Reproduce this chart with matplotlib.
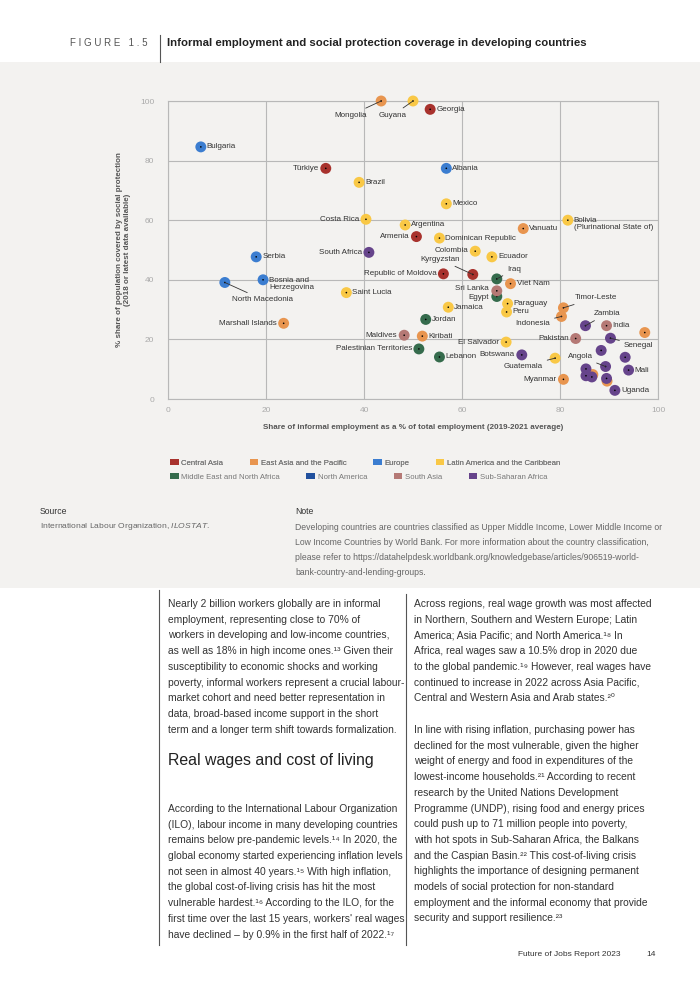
import matplotlib
matplotlib.use("Agg")
import matplotlib.pyplot as plt
from matplotlib.lines import Line2D
from matplotlib.patches import Rectangle, Patch

plt.rcParams["font.family"] = ["Liberation Sans", "DejaVu Sans"]
plt.rcParams["mathtext.fontset"] = "custom"
plt.rcParams["mathtext.it"] = "Liberation Sans:italic"
plt.rcParams["mathtext.rm"] = "Liberation Sans"

# ---- data ----
REGIONS = ["Central Asia", "East Asia and the Pacific", "Europe",
           "Latin America and the Caribbean", "Middle East and North Africa",
           "North America", "South Asia", "Sub-Saharan Africa"]
REGION_COLORS = ["#a8322d", "#e8954f", "#3b7dd0", "#f9c846",
                 "#356b4c", "#22519e", "#b57975", "#66448b"]

central_asia_names = ["Georgia", "Türkiye", "Armenia", "Republic of Moldova", "Kyrgyzstan"]
central_asia_x = [53.5, 32.2, 50.7, 56.2, 62.2]
central_asia_y = [97.2, 77.4, 54.5, 42.0, 41.8]

east_asia_names = ["Mongolia", "Vanuatu", "Viet Nam", "Timor-Leste", "Indonesia",
                   "Marshall Islands", "Kiribati", "Myanmar", "", "", ""]
east_asia_x = [43.5, 72.5, 69.9, 80.7, 80.3, 23.6, 51.9, 80.7, 97.3, 86.7, 89.6]
east_asia_y = [100.0, 57.2, 38.7, 30.6, 27.7, 25.4, 21.1, 6.6, 22.3, 8.2, 6.0]

europe_names = ["Bulgaria", "Albania", "Serbia", "Bosnia and\nHerzegovina", "North Macedonia"]
europe_x = [6.7, 56.8, 18.0, 19.4, 11.6]
europe_y = [84.6, 77.4, 47.7, 40.0, 39.1]

latam_names = ["Guyana", "Brazil", "Mexico", "Costa Rica", "Bolivia\n(Plurinational State of)",
               "Argentina", "Dominican Republic", "Colombia", "Ecuador", "Saint Lucia",
               "Paraguay", "Jamaica", "Peru", "El Salvador", "Guatemala"]
latam_x = [50.0, 39.0, 56.8, 40.4, 81.6, 48.4, 55.4, 62.7, 66.1, 36.4,
           69.3, 57.2, 69.1, 69.0, 79.0]
latam_y = [100.0, 72.7, 65.5, 60.3, 60.0, 58.4, 54.0, 49.6, 47.7, 35.7,
           32.0, 30.8, 29.2, 19.1, 13.7]

mena_names = ["Iraq", "Egypt", "Jordan", "Palestinian Territories", "Lebanon"]
mena_x = [67.1, 67.1, 52.6, 51.2, 55.4]
mena_y = [40.3, 34.4, 26.7, 16.8, 14.1]

north_america_names = []
north_america_x = []
north_america_y = []

south_asia_names = ["Sri Lanka", "India", "Maldives", "Pakistan"]
south_asia_x = [67.1, 89.5, 48.2, 83.2]
south_asia_y = [36.3, 24.6, 21.4, 20.3]

ssa_names = ["South Africa", "Zambia", "Senegal", "", "", "Botswana", "Angola", "",
             "Mali", "", "", "", "Uganda"]
ssa_x = [41.0, 85.2, 90.3, 88.4, 93.3, 72.2, 89.3, 85.3, 94.0, 85.3, 86.5, 89.5, 91.2]
ssa_y = [49.2, 24.6, 20.4, 16.3, 14.0, 14.8, 10.9, 10.1, 9.7, 7.8, 7.4, 6.9, 2.9]

SERIES = [
    (central_asia_names, central_asia_x, central_asia_y),
    (east_asia_names, east_asia_x, east_asia_y),
    (europe_names, europe_x, europe_y),
    (latam_names, latam_x, latam_y),
    (mena_names, mena_x, mena_y),
    (north_america_names, north_america_x, north_america_y),
    (south_asia_names, south_asia_x, south_asia_y),
    (ssa_names, ssa_x, ssa_y),
]

X_TICKS = [0, 20, 40, 60, 80, 100]
Y_TICKS = [0, 20, 40, 60, 80, 100]

TITLE = "Informal employment and social protection coverage in developing countries"
XLABEL = "Share of informal employment as a % of total employment (2019-2021 average)"
YLABEL = "% share of population covered by social protection\n(2018 or latest data available)"

NOTE_LINES = [
    "Developing countries are countries classified as Upper Middle Income, Lower Middle Income or",
    "Low Income Countries by World Bank. For more information about the country classification,",
    "please refer to https://datahelpdesk.worldbank.org/knowledgebase/articles/906519-world-",
    "bank-country-and-lending-groups.",
]

LEFT_PARA1 = [
    "Nearly 2 billion workers globally are in informal",
    "employment, representing close to 70% of",
    "workers in developing and low-income countries,",
    "as well as 18% in high income ones.¹³ Given their",
    "susceptibility to economic shocks and working",
    "poverty, informal workers represent a crucial labour-",
    "market cohort and need better representation in",
    "data, broad-based income support in the short",
    "term and a longer term shift towards formalization.",
]
LEFT_PARA2 = [
    "According to the International Labour Organization",
    "(ILO), labour income in many developing countries",
    "remains below pre-pandemic levels.¹⁴ In 2020, the",
    "global economy started experiencing inflation levels",
    "not seen in almost 40 years.¹⁵ With high inflation,",
    "the global cost-of-living crisis has hit the most",
    "vulnerable hardest.¹⁶ According to the ILO, for the",
    "first time over the last 15 years, workers' real wages",
    "have declined – by 0.9% in the first half of 2022.¹⁷",
]
RIGHT_PARA1 = [
    "Across regions, real wage growth was most affected",
    "in Northern, Southern and Western Europe; Latin",
    "America; Asia Pacific; and North America.¹⁸ In",
    "Africa, real wages saw a 10.5% drop in 2020 due",
    "to the global pandemic.¹⁹ However, real wages have",
    "continued to increase in 2022 across Asia Pacific,",
    "Central and Western Asia and Arab states.²⁰",
]
RIGHT_PARA2 = [
    "In line with rising inflation, purchasing power has",
    "declined for the most vulnerable, given the higher",
    "weight of energy and food in expenditures of the",
    "lowest-income households.²¹ According to recent",
    "research by the United Nations Development",
    "Programme (UNDP), rising food and energy prices",
    "could push up to 71 million people into poverty,",
    "with hot spots in Sub-Saharan Africa, the Balkans",
    "and the Caspian Basin.²² This cost-of-living crisis",
    "highlights the importance of designing permanent",
    "models of social protection for non-standard",
    "employment and the informal economy that provide",
    "security and support resilience.²³",
]

# label placement: (dx px, dy px, ha, leader line)
LEFT = {"Türkiye", "Costa Rica", "South Africa", "Armenia", "Republic of Moldova",
        "Maldives", "Palestinian Territories", "El Salvador", "Botswana", "Pakistan",
        "Marshall Islands", "Myanmar"}
SPECIAL = {
    "Colombia": (-7, 1, "right", False),
    "Sri Lanka": (-8, 2, "right", False),
    "Egypt": (-8, -1, "right", False),
    "Mongolia": (-14, -14, "right", True),
    "Guyana": (-6, -14, "right", True),
    "Kyrgyzstan": (-13, 15, "right", True),
    "Iraq": (10, 9, "left", True),
    "Timor-Leste": (11, 10, "left", True),
    "Indonesia": (-11, -7, "right", True),
    "Zambia": (8, 12, "left", True),
    "Senegal": (13, -7, "left", True),
    "Guatemala": (-12, -8, "right", True),
    "Angola": (-13, 10, "right", True),
    "North Macedonia": (7, -17, "left", True),
    "Bolivia\n(Plurinational State of)": (6, -4, "left", False),
    "Bosnia and\nHerzegovina": (6, -4, "left", False),
}

W, H = 700, 990


def fx(px):
    return px / W


def fy(py):
    return 1 - py / H


fig = plt.figure(figsize=(W / 100, H / 100), dpi=100)
fig.patch.set_facecolor("white")

# grey chart panel
fig.patches.append(Rectangle((0, fy(588)), 1, (588 - 62) / H, transform=fig.transFigure,
                             facecolor="#f3f2f0", edgecolor="none", zorder=-10))

# header
fig.text(fx(70), fy(43), "F I G U R E   1 . 5", fontsize=7.0, color="#555555", va="center")
fig.add_artist(Line2D([fx(160), fx(160)], [fy(35), fy(62)], color="#555555", lw=0.8))
fig.text(fx(167), fy(43), TITLE, fontsize=8.2, weight="bold", color="#222222", va="center")

# scatter
ax = fig.add_axes([168 / W, 1 - 399 / H, 490 / W, 298 / H])
ax.patch.set_alpha(0)
ax.set_xlim(0, 100)
ax.set_ylim(0, 100)
ax.set_xticks(X_TICKS)
ax.set_yticks(Y_TICKS)
ax.grid(color="#b8b8b8", lw=0.8)
ax.set_axisbelow(True)
for sp in ax.spines.values():
    sp.set_color("#b8b8b8")
    sp.set_linewidth(0.8)
ax.tick_params(length=0, labelsize=6.0, labelcolor="#aaaaaa")
ax.tick_params(axis="x", pad=6)
ax.tick_params(axis="y", pad=10)

for i, ((names, xs, ys), color) in enumerate(zip(SERIES, REGION_COLORS)):
    if not xs:
        continue
    ax.scatter(xs, ys, s=62, color=color, edgecolors="none", clip_on=False, zorder=3 + 2 * i)
    ax.scatter(xs, ys, s=1.4, color="black", edgecolors="none", clip_on=False, zorder=4 + 2 * i)
    for name, x, y in zip(names, xs, ys):
        if not name:
            continue
        if name in SPECIAL:
            dx, dy, ha, leader = SPECIAL[name]
        elif name in LEFT:
            dx, dy, ha, leader = -7, 0, "right", False
        else:
            dx, dy, ha, leader = 6, 0, "left", False
        kw = {}
        if leader:
            kw["arrowprops"] = dict(arrowstyle="-", color="#333333", lw=0.6,
                                    shrinkA=1, shrinkB=0)
        ax.annotate(name, (x, y), xytext=(dx, dy), textcoords="offset pixels",
                    ha=ha, va="center", fontsize=5.8, color="#333333",
                    linespacing=1.1, zorder=30, annotation_clip=False, **kw)

ax.set_xlabel(XLABEL, fontsize=5.8, weight="bold", color="#555555")
ax.xaxis.set_label_coords(0.5, -0.085)
ax.set_ylabel(YLABEL, fontsize=5.8, weight="bold", color="#555555", linespacing=1.2)
ax.yaxis.set_label_coords(-0.075, 0.5)

# legend, two rows
handles = [Patch(facecolor=c, edgecolor="none") for c in REGION_COLORS]
leg_kw = dict(loc="center left", frameon=False, fontsize=5.6, ncol=4,
              handlelength=1.1, handleheight=0.65, handletextpad=0.35,
              columnspacing=3.4, borderpad=0, borderaxespad=0, labelcolor="#777777")
leg1 = fig.legend(handles[:4], REGIONS[:4], bbox_to_anchor=(fx(170), fy(463)), **leg_kw)
fig.add_artist(leg1)
fig.legend(handles[4:], REGIONS[4:], bbox_to_anchor=(fx(170), fy(477)), **leg_kw)

# source / note
fig.text(fx(40), fy(511), "Source", fontsize=6.2, color="#333333", va="center")
fig.text(fx(40), fy(527), "International Labour Organization, $\\mathit{ILOSTAT}$.",
         fontsize=6.1, color="#666666", va="center")
fig.text(fx(295), fy(511), "Note", fontsize=6.2, color="#333333", va="center")
for k, line in enumerate(NOTE_LINES):
    fig.text(fx(295), fy(527 + k * 15.3), line, fontsize=6.2, color="#666666", va="center")

# body text
BODY_KW = dict(fontsize=7.4, color="#333333", va="center")
STEP = 15.7
for k, line in enumerate(LEFT_PARA1):
    fig.text(fx(168), fy(604 + k * STEP), line, **BODY_KW)
fig.text(fx(168), fy(760), "Real wages and cost of living", fontsize=11.4,
         color="#222222", va="center")
for k, line in enumerate(LEFT_PARA2):
    fig.text(fx(168), fy(809 + k * STEP), line, **BODY_KW)
for k, line in enumerate(RIGHT_PARA1):
    fig.text(fx(414), fy(604 + k * STEP), line, **BODY_KW)
for k, line in enumerate(RIGHT_PARA2):
    fig.text(fx(414), fy(730 + k * STEP), line, **BODY_KW)

fig.add_artist(Line2D([fx(159), fx(159)], [fy(590), fy(945)], color="#555555", lw=0.8))
fig.add_artist(Line2D([fx(406), fx(406)], [fy(594), fy(945)], color="#555555", lw=0.8))

# footer
fig.text(fx(621), fy(955), "Future of Jobs Report 2023", ha="right", fontsize=6,
         color="#333333", va="center")
fig.text(fx(656), fy(955), "14", ha="right", fontsize=6, color="#333333", va="center")

fig.savefig("out.png", dpi=100, facecolor="white")
